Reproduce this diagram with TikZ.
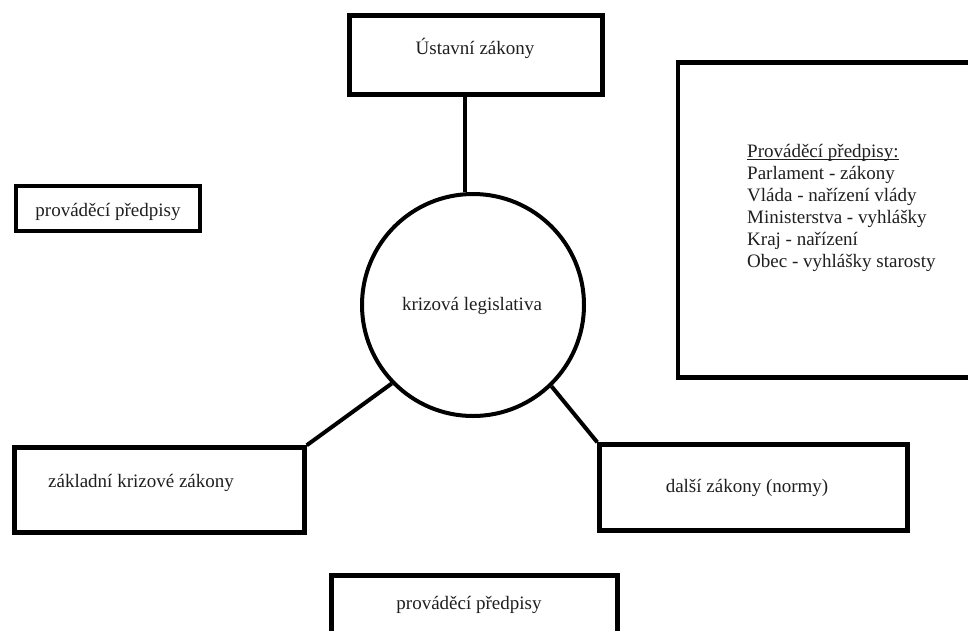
\documentclass[tikz,border=0pt]{standalone}
\usepackage{fontspec}
\setmainfont{Liberation Serif}
\newcommand{\ulx}[1]{\leavevmode\setbox0=\hbox{#1}\rlap{\rule[-2.6pt]{\wd0}{0.9pt}}\box0}
\begin{document}
\begin{tikzpicture}[x=1pt,y=-1pt,
  box/.style={draw, line width=4.5pt, rectangle, inner sep=0pt},
  lbl/.style={inner sep=0pt, font=\fontsize{19}{22}\selectfont, text=black!88},
  conn/.style={line width=4pt}]
\path[use as bounding box, clip] (0,0) rectangle (968,630);
\fill[white] (0,0) rectangle (968,630);
% boxes
\node[box, minimum width=253pt, minimum height=79pt] (top) at (476,55) {};
\node[box, minimum width=184pt, minimum height=45pt] (left) at (108,208.5) {};
\node[box, minimum width=312pt, minimum height=315pt] (right) at (833.75,220) {};
\node[box, minimum width=290pt, minimum height=85pt] (bl) at (159.5,490) {};
\node[box, minimum width=308pt, minimum height=86pt] (br) at (753.5,487.5) {};
\node[box, minimum width=286pt, minimum height=74.5pt] (bot) at (474.5,612.75) {};
\node[draw, circle, line width=4pt, minimum size=222pt, inner sep=0pt] (circ) at (473,305) {};
% connectors
\draw[conn] (top.south -| circ.94) -- (circ.94);
\draw[conn] (circ.224) -- (bl.north east);
\draw[conn] (circ.-46) -- (br.north west);
% texts
\node[lbl] (ttop) at (475,48) {Ústavní zákony};
\node[lbl] (tleft) at (108,212) {prováděcí předpisy};
\node[lbl] (tcirc) at (472,306) {krizová legislativa};
\node[lbl] (tbl) at (141,483) {základní krizové zákony};
\node[lbl] (tbr) at (747,488) {další zákony (normy)};
\node[lbl] (tbot) at (469,605) {prováděcí předpisy};
\node[lbl, align=left, anchor=north west] (list) at (747,144) {\ulx{Prováděcí předpisy:}\\
Parlament - zákony\\
Vláda - nařízení vlády\\
Ministerstva - vyhlášky\\
Kraj - nařízení\\
Obec - vyhlášky starosty};
\end{tikzpicture}
\end{document}
